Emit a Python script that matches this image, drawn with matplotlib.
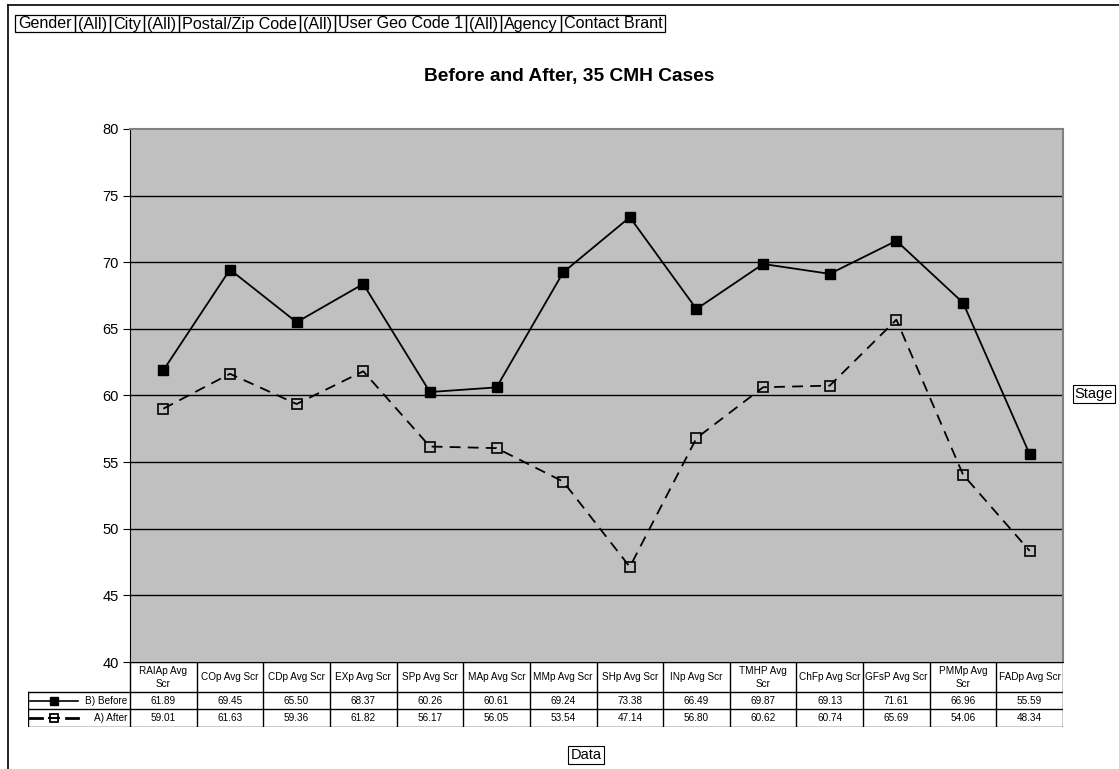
import numpy as np
import matplotlib
matplotlib.use("Agg")
import matplotlib.pyplot as plt
from matplotlib.lines import Line2D
from matplotlib.patches import Rectangle

plt.rcParams['font.family'] = ['Liberation Sans', 'DejaVu Sans']

W, H = 1119, 769

categories = ["RAIAp Avg\nScr", "COp Avg Scr", "CDp Avg Scr", "EXp Avg Scr",
              "SPp Avg Scr", "MAp Avg Scr", "MMp Avg Scr", "SHp Avg Scr",
              "INp Avg Scr", "TMHP Avg\nScr", "ChFp Avg Scr", "GFsP Avg Scr",
              "PMMp Avg\nScr", "FADp Avg Scr"]
before = [61.89, 69.45, 65.50, 68.37, 60.26, 60.61, 69.24, 73.38,
          66.49, 69.87, 69.13, 71.61, 66.96, 55.59]
after = [59.01, 61.63, 59.36, 61.82, 56.17, 56.05, 53.54, 47.14,
         56.80, 60.62, 60.74, 65.69, 54.06, 48.34]
series_names = ["B) Before", "A) After"]
filters = ["Gender", "(All)", "City", "(All)", "Postal/Zip Code", "(All)",
           "User Geo Code 1", "(All)", "Agency", "Contact Brant"]
yticks = [40, 45, 50, 55, 60, 65, 70, 75, 80]


def rect(l, t, r, b):
    return [l / W, 1 - b / H, (r - l) / W, (b - t) / H]


fig = plt.figure(figsize=(W / 100, H / 100), dpi=100)

# outer frame (top and left only)
fig.add_artist(Line2D([8 / W, 1], [1 - 5 / H, 1 - 5 / H], color='black', lw=1.2))
fig.add_artist(Line2D([8 / W, 8 / W], [0, 1 - 5 / H], color='black', lw=1.2))

# main plot
ax = fig.add_axes(rect(130, 129, 1063, 662))
ax.set_facecolor('#c0c0c0')
x = np.arange(len(categories))
ax.plot(x, before, color='black', lw=1.3, marker='s', ms=6.5,
        mfc='black', mec='black', zorder=3)
ax.plot(x, after, color='black', lw=1.3, ls=(0, (6, 4)), marker='s', ms=6.5,
        mfc='none', mec='black', mew=1.2, zorder=3)
ax.set_xlim(-0.5, len(categories) - 0.5)
ax.set_ylim(40, 80)
ax.set_yticks(yticks)
ax.tick_params(axis='y', labelsize=10.5, length=5, direction='out', pad=3)
ax.set_xticks([])
for yv in yticks[1:-1]:
    ax.axhline(yv, color='black', lw=1.0, zorder=1)
ax.spines['left'].set_color('black')
ax.spines['bottom'].set_color('black')
ax.spines['top'].set_color('#808080')
ax.spines['right'].set_color('#808080')
ax.spines['top'].set_linewidth(1.5)
ax.spines['right'].set_linewidth(1.5)

# data table
colw = 933 / len(categories)
leg_w = 102 / colw
tx = fig.add_axes(rect(28, 662, 1063, 727))
tx.set_xlim(-0.5 - leg_w, len(categories) - 0.5)
tx.set_ylim(65, 0)
tx.axis('off')
xl = -0.5 - leg_w
xr = len(categories) - 0.5
lk = dict(color='black', lw=1.0)
for i in range(len(categories) + 1):
    tx.plot([i - 0.5, i - 0.5], [0, 65], **lk)
tx.plot([xl, xl], [30, 65], **lk)
tx.plot([-0.5, xr], [0, 0], **lk)
for yy in (30, 46.5, 65):
    tx.plot([xl, xr], [yy, yy], **lk)
fs = 7.2
for i, c in enumerate(categories):
    tx.text(i, 15.5, c, ha='center', va='center', fontsize=fs, linespacing=1.3)
    tx.text(i, 38.5, f"{before[i]:.2f}", ha='center', va='center', fontsize=fs)
    tx.text(i, 56, f"{after[i]:.2f}", ha='center', va='center', fontsize=fs)

# legend keys in the table
x0 = xl + 2 / colw
x1 = xl + 50 / colw
xm = (x0 + x1) / 2
tx.plot([x0, x1], [38.5, 38.5], color='black', lw=1.2)
tx.plot([xm], [38.5], marker='s', ms=6, color='black')
tx.plot([x0, xm - 12 / colw], [56, 56], color='black', lw=2)
tx.plot([xm + 12 / colw, x1], [56, 56], color='black', lw=2)
tx.plot([xm - 5 / colw, xm + 5 / colw], [56, 56], color='black', lw=1.5)
tx.plot([xm], [56], marker='s', ms=6, mfc='none', mec='black', mew=1.3)
tx.text(-0.5 - 3 / colw, 38.5, series_names[0], ha='right', va='center', fontsize=fs)
tx.text(-0.5 - 3 / colw, 56, series_names[1], ha='right', va='center', fontsize=fs)

# title
fig.text(569 / W, 1 - 77 / H, "Before and After, 35 CMH Cases", ha='center',
         va='center', fontsize=13.8, fontweight='bold')

box = dict(boxstyle='square,pad=0.15', fc='white', ec='black', lw=0.8)
fig.text(1094 / W, 1 - 394 / H, "Stage", ha='center', va='center', fontsize=10.5, bbox=box)
fig.text(586 / W, 1 - 755 / H, "Data", ha='center', va='center', fontsize=10.5, bbox=box)

# page field buttons
r = fig.canvas.get_renderer()
px = 15
hpad = 3
for f in filters:
    t = fig.text((px + hpad) / W, 1 - 28.5 / H, f, ha='left', va='baseline',
                 fontsize=11.6)
    ext = t.get_window_extent(r)
    right = ext.x1 + hpad
    fig.add_artist(Rectangle((px / W, 1 - 32 / H), (right - px) / W, 17 / H,
                             transform=fig.transFigure, fill=False, ec='black', lw=0.9))
    px = right

fig.savefig("out.png", dpi=100)
